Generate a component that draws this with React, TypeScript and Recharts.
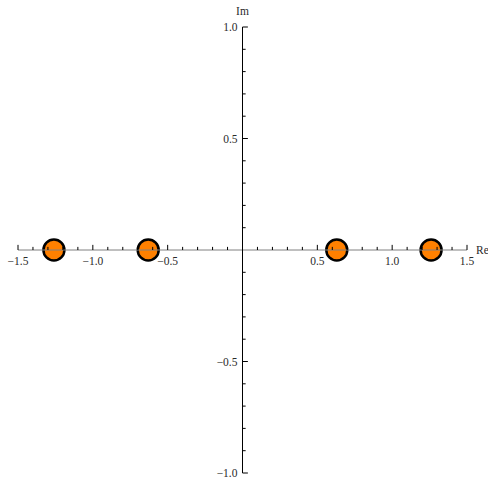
import { ScatterChart, Scatter, XAxis, YAxis, ReferenceLine, ReferenceDot } from "recharts"

// roots on the real axis
const reValues = [-1.26, -0.63, 0.63, 1.26]
const imValues = [0, 0, 0, 0]

const xMajorTicks = [-1.5, -1.0, -0.5, 0.5, 1.0, 1.5]
const xMajorLabels = ["\u22121.5", "\u22121.0", "\u22120.5", "0.5", "1.0", "1.5"]
const xMinorTicks = [-1.4, -1.3, -1.2, -1.1, -0.9, -0.8, -0.7, -0.6, -0.4, -0.3, -0.2, -0.1,
  0.1, 0.2, 0.3, 0.4, 0.6, 0.7, 0.8, 0.9, 1.1, 1.2, 1.3, 1.4]

const yMajorTicks = [-1.0, -0.5, 0.5, 1.0]
const yMajorLabels = ["\u22121.0", "\u22120.5", "0.5", "1.0"]
const yMinorTicks = [-0.9, -0.8, -0.7, -0.6, -0.4, -0.3, -0.2, -0.1,
  0.1, 0.2, 0.3, 0.4, 0.6, 0.7, 0.8, 0.9]

const points = reValues.map((re, i) => ({ re, im: imValues[i] }))

// tick lengths in data units (about 5px / 3px)
const X_MAJOR = 0.023
const X_MINOR = 0.014
const Y_MAJOR = 0.036
const Y_MINOR = 0.021

const font = "Liberation Serif, DejaVu Serif, serif"
const labelColor = "#2a2a2a"
const Z = 800

export default function App() {
  return (
    <div style={{ position: "absolute", left: 0, top: 0 }}>
      <ScatterChart width={488} height={480} margin={{ top: 27, right: 21, bottom: 7, left: 18 }}>
        <XAxis type="number" dataKey="re" domain={[-1.5, 1.5]} hide />
        <YAxis type="number" dataKey="im" domain={[-1, 1]} hide />

        <Scatter
          data={points}
          isAnimationActive={false}
          shape={(p: any) => (
            <circle cx={p.cx} cy={p.cy} r={10.5} fill="#ff8000" stroke="#000" strokeWidth={2.5} />
          )}
        />

        {/* axes through the origin, drawn over the points */}
        <ReferenceLine y={0} stroke="#808080" strokeWidth={1} zIndex={Z} />
        <ReferenceLine x={0} stroke="#000" strokeWidth={1} zIndex={Z} />

        {xMajorTicks.map(t => (
          <ReferenceLine key={"xM" + t} segment={[{ x: t, y: 0 }, { x: t, y: X_MAJOR }]} stroke="#000" strokeWidth={1} zIndex={Z} />
        ))}
        {xMinorTicks.map(t => (
          <ReferenceLine key={"xm" + t} segment={[{ x: t, y: 0 }, { x: t, y: X_MINOR }]} stroke="#000" strokeWidth={1} zIndex={Z} />
        ))}
        {yMajorTicks.map(t => (
          <ReferenceLine key={"yM" + t} segment={[{ x: 0, y: t }, { x: Y_MAJOR, y: t }]} stroke="#000" strokeWidth={1} zIndex={Z} />
        ))}
        {yMinorTicks.map(t => (
          <ReferenceLine key={"ym" + t} segment={[{ x: 0, y: t }, { x: Y_MINOR, y: t }]} stroke="#000" strokeWidth={1} zIndex={Z} />
        ))}

        {xMajorTicks.map((t, i) => (
          <ReferenceDot
            key={"xl" + t}
            x={t}
            y={0}
            r={0}
            shape={(p: any) => (
              <text x={p.cx} y={p.cy + 15} textAnchor="middle" style={{ fontFamily: font }} fontSize={11.5} fill={labelColor}>
                {xMajorLabels[i]}
              </text>
            )}
          />
        ))}
        {yMajorTicks.map((t, i) => (
          <ReferenceDot
            key={"yl" + t}
            x={0}
            y={t}
            r={0}
            shape={(p: any) => (
              <text x={p.cx - 5} y={p.cy + 4} textAnchor="end" style={{ fontFamily: font }} fontSize={11.5} fill={labelColor}>
                {yMajorLabels[i]}
              </text>
            )}
          />
        ))}

        <ReferenceDot
          x={1.5}
          y={0}
          r={0}
          shape={(p: any) => (
            <text x={p.cx + 9} y={p.cy + 4} textAnchor="start" style={{ fontFamily: font }} fontSize={11.5} fill={labelColor}>
              Re
            </text>
          )}
        />
        <ReferenceDot
          x={0}
          y={1}
          r={0}
          shape={(p: any) => (
            <text x={p.cx} y={p.cy - 12} textAnchor="middle" style={{ fontFamily: font }} fontSize={11.5} fill={labelColor}>
              Im
            </text>
          )}
        />
      </ScatterChart>
    </div>
  )
}
